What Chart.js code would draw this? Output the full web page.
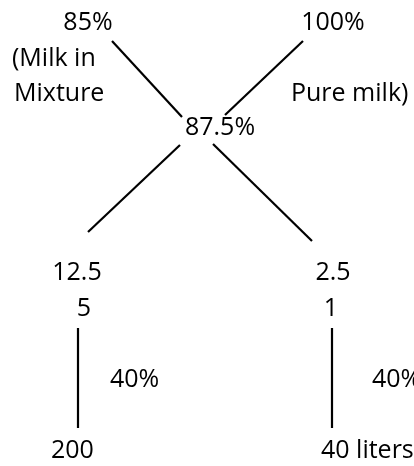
<!DOCTYPE html>
<html>
<head>
<meta charset="utf-8">
<script src="https://cdn.jsdelivr.net/npm/chart.js@4"></script>
<style>
  html, body { margin: 0; padding: 0; background: #fff; }
  #wrap { width: 414px; height: 466px; position: relative; }
</style>
</head>
<body>
<div id="wrap"><canvas id="grafico"></canvas></div>
<script>
// alligation values
const topValues = ['85%', '100%'];
const topNotes = [['(Milk in', 'Mixture'], ['Pure milk)']];
const meanValue = '87.5%';
const differences = ['12.5', '2.5'];
const ratio = ['5', '1'];
const share = ['40%', '40%'];
const quantities = ['200', '40 liters'];

// diagram lines (diagram units, y grows downward)
const crossA = [{x: 112, y: 41}, {x: 182, y: 117}];
const crossB = [{x: 303, y: 41}, {x: 225, y: 115}];
const crossC = [{x: 180, y: 145}, {x: 88, y: 232}];
const crossD = [{x: 213, y: 144}, {x: 312, y: 241}];
const barLeft = [{x: 78, y: 328}, {x: 78, y: 428}];
const barRight = [{x: 332, y: 328}, {x: 332, y: 428}];

// where each text sits: [text, x, y, align]
const textos = [
    [topValues[0], 88, 23, 'center'],
    [topValues[1], 333, 23, 'center'],
    [topNotes[0][0], 12, 59, 'left'],
    [topNotes[0][1], 14, 94, 'left'],
    [topNotes[1][0], 291, 94, 'left'],
    [meanValue, 220, 128, 'center'],
    [differences[0], 77, 273, 'center'],
    [differences[1], 333, 273, 'center'],
    [ratio[0], 84, 309, 'center'],
    [ratio[1], 331, 309, 'center'],
    [share[0], 110, 380, 'left'],
    [share[1], 372, 380, 'left'],
    [quantities[0], 51, 451, 'left'],
    [quantities[1], 321, 451, 'left']
];

const linha = (pts) => ({
    data: pts,
    showLine: true,
    borderColor: '#000',
    borderWidth: 2.2,
    pointRadius: 0,
    clip: false
});

const textPlugin = {
    id: 'textos',
    afterDatasetsDraw(chart) {
        const {ctx, scales: {x, y}} = chart;
        ctx.save();
        ctx.fillStyle = '#000';
        ctx.font = '25px "Open Sans"';
        ctx.textBaseline = 'middle';
        textos.forEach(([t, px, py, al]) => {
            ctx.textAlign = al;
            ctx.fillText(t, x.getPixelForValue(px), y.getPixelForValue(py));
        });
        ctx.restore();
    }
};

const ctx = document.getElementById('grafico').getContext('2d');
new Chart(ctx, {
    type: 'scatter',
    data: {
        datasets: [crossA, crossB, crossC, crossD, barLeft, barRight].map(linha)
    },
    options: {
        responsive: true,
        maintainAspectRatio: false,
        animation: false,
        layout: { padding: 0 },
        plugins: { legend: { display: false }, tooltip: { enabled: false } },
        scales: {
            x: { type: 'linear', min: 0, max: 414, display: false },
            y: { type: 'linear', min: 0, max: 466, reverse: true, display: false }
        }
    },
    plugins: [textPlugin]
});
</script>
</body>
</html>
